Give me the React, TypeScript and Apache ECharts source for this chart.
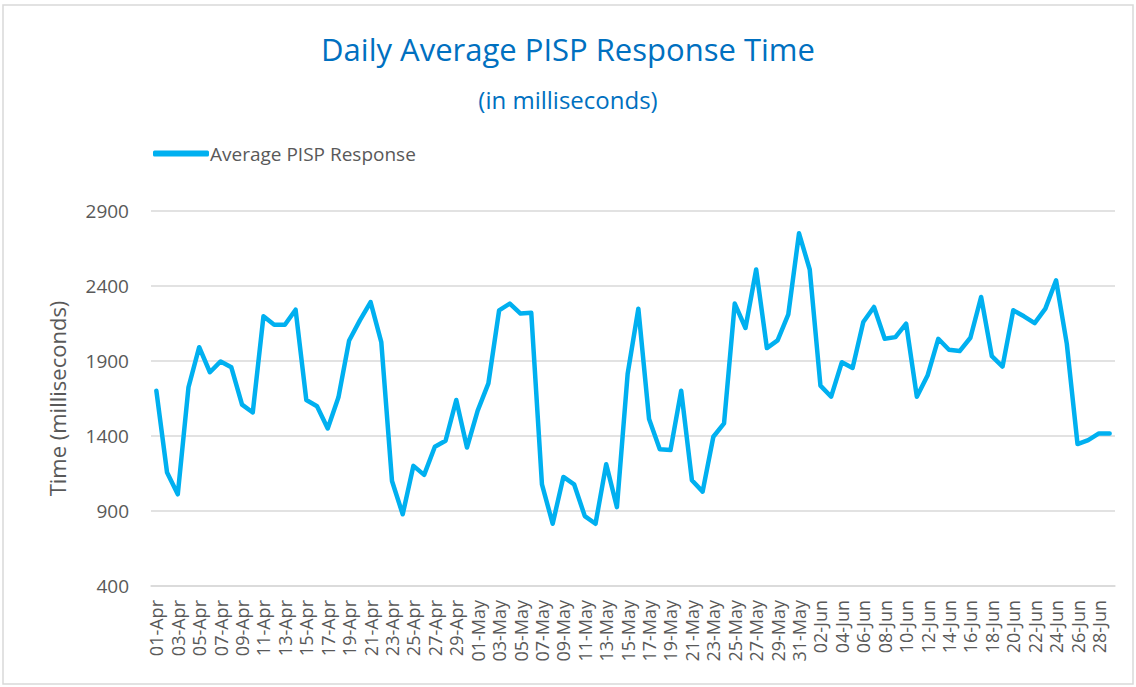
import React, { useEffect, useRef } from "react";
import * as echarts from "echarts";

const monthDays: [string, number][] = [["Apr", 30], ["May", 31], ["Jun", 29]];
const categories: string[] = [];
monthDays.forEach(([m, n]) => {
  for (let d = 1; d <= n; d++) categories.push((d < 10 ? "0" : "") + d + "-" + m);
});

const responseTimes = [
  1702, 1156, 1011, 1725, 1992, 1825, 1897, 1858, 1609, 1557,
  2198, 2142, 2142, 2242, 1640, 1598, 1450, 1658, 2037, 2171,
  2293, 2026, 1100, 878, 1201, 1141, 1328, 1368, 1640, 1323,
  1569, 1751, 2238, 2283, 2216, 2222, 1078, 815, 1127, 1078,
  866, 815, 1212, 926, 1814, 2249, 1513, 1312, 1306, 1702,
  1105, 1029, 1395, 1484, 2283, 2120, 2510, 1986, 2037, 2211,
  2751, 2510, 1736, 1662, 1892, 1854, 2160, 2260, 2048, 2059,
  2149, 1662, 1803, 2048, 1975, 1966, 2055, 2327, 1932, 1863,
  2238, 2198, 2153, 2249, 2438, 2015, 1346, 1373, 1417, 1417,
];

const yMin = 400;
const yMax = 2900;
const yStep = 500;

export default function App() {
  const ref = useRef<HTMLDivElement>(null);
  useEffect(() => {
    if (!ref.current) return;
    const chart = echarts.init(ref.current, null, { renderer: "svg" });
    const gray = "#595959";
    chart.setOption({
      animation: false,
      backgroundColor: "#ffffff",
      title: [
        {
          text: "Daily Average PISP Response Time",
          left: "center",
          top: 28,
          textStyle: { color: "#0070C0", fontSize: 31, fontWeight: "normal", fontFamily: "Open Sans" },
        },
        {
          text: "(in milliseconds)",
          left: "center",
          top: 82,
          textStyle: { color: "#0070C0", fontSize: 24, fontWeight: "normal", fontFamily: "Open Sans" },
        },
      ],
      legend: {
        left: 148,
        top: 139,
        itemWidth: 56,
        itemHeight: 6,
        itemGap: 4,
        icon: "roundRect",
        textStyle: { color: gray, fontSize: 19, fontFamily: "Open Sans", padding: [0, 0, 0, -4] },
        data: ["Average PISP Response"],
      },
      graphic: [
        {
          type: "rect",
          shape: { x: 3, y: 5, width: 1130, height: 679 },
          style: { fill: "none", stroke: "#d9d9d9", lineWidth: 1.5 },
          silent: true,
        },
      ],
      grid: { left: 151, right: 21, top: 211, bottom: 101 },
      xAxis: {
        type: "category",
        data: categories,
        boundaryGap: true,
        axisLine: { lineStyle: { color: "#d9d9d9", width: 1.5 } },
        axisTick: { interval: 1, length: 6, lineStyle: { color: "#d9d9d9", width: 1.5 } },
        axisLabel: { interval: 1, rotate: 90, color: gray, fontSize: 18, fontFamily: "Open Sans", margin: 14 },
      },
      yAxis: {
        type: "value",
        min: yMin,
        max: yMax,
        interval: yStep,
        name: "Time (milliseconds)",
        nameLocation: "middle",
        nameGap: 83,
        nameTextStyle: { color: gray, fontSize: 22, fontFamily: "Open Sans" },
        axisLine: { show: false },
        axisTick: { show: false },
        axisLabel: {
          color: gray,
          fontSize: 19,
          fontFamily: "Open Sans",
          margin: 22,
          formatter: (v: number) => String(v),
        },
        splitLine: { lineStyle: { color: "#d9d9d9", width: 1.5 } },
      },
      series: [
        {
          name: "Average PISP Response",
          type: "line",
          data: responseTimes,
          symbol: "none",
          itemStyle: { color: "#00B0F0" },
          lineStyle: { color: "#00B0F0", width: 4.5, join: "round", cap: "round" },
        },
      ],
    });
    return () => chart.dispose();
  }, []);
  return (
    <div
      ref={ref}
      style={{ position: "fixed", left: 0, top: 0, width: 1136, height: 687 }}
    />
  );
}
